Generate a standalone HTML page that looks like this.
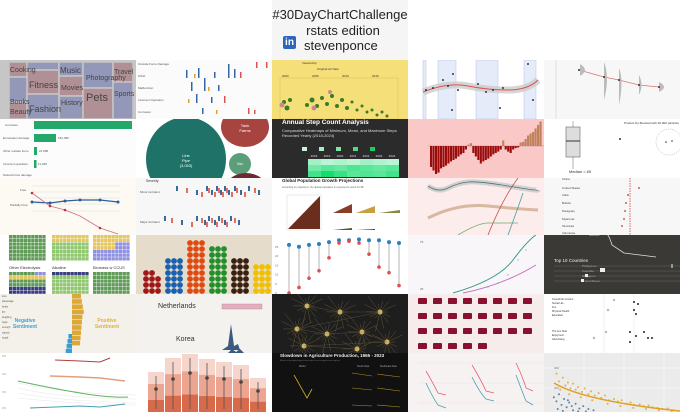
<!DOCTYPE html>
<html><head><meta charset="utf-8">
<style>
body{margin:0;width:680px;height:412px;overflow:hidden;background:#fff;font-family:"Liberation Sans",sans-serif;position:relative}
.t{position:absolute;width:136px;height:59px;overflow:hidden}
.t svg{display:block}
.hd{position:absolute;left:272px;top:0;width:136px;height:60px;background:#f5f5f5;text-align:center;color:#222}
</style></head><body>
<div class="hd">
<div style="position:absolute;left:0;width:136px;top:7px;font-size:13px">#30DayChartChallenge</div>
<div style="position:absolute;left:0;width:136px;top:23px;font-size:13px;padding-left:6px;box-sizing:border-box">rstats edition</div>
<div style="position:absolute;left:11px;top:36px;width:13px;height:13px;background:#2d64bc;border-radius:2px;color:#fff;font-size:10px;font-weight:bold;line-height:13px">in</div>
<div style="position:absolute;left:32px;top:38px;font-size:13px">stevenponce</div>
</div>

<!-- Row 1 -->
<div class="t" style="left:0;top:60px;background:#c6c6c6">
<svg width="136" height="59"><g stroke="#c6c6c6" stroke-width="1.5">
<rect x="9" y="2" width="18" height="15" fill="#b08f95"/><rect x="27" y="2" width="32" height="8" fill="#9397b8"/><rect x="27" y="10" width="32" height="24" fill="#b08f95"/>
<rect x="9" y="17" width="18" height="25" fill="#9397b8"/><rect x="9" y="42" width="18" height="17" fill="#b08f95"/>
<rect x="27" y="34" width="32" height="25" fill="#9397b8"/><rect x="59" y="2" width="24" height="14" fill="#9397b8"/><rect x="59" y="16" width="24" height="20" fill="#b08f95"/><rect x="59" y="36" width="24" height="23" fill="#9397b8"/>
<rect x="83" y="2" width="30" height="26" fill="#9397b8"/><rect x="83" y="28" width="30" height="31" fill="#b08f95"/><rect x="113" y="2" width="20" height="20" fill="#b08f95"/><rect x="113" y="22" width="20" height="37" fill="#9397b8"/></g>
<g fill="#444" font-size="7"><text x="10" y="12">Cooking</text><text x="29" y="28" font-size="9">Fitness</text><text x="60" y="13" font-size="8">Music</text><text x="61" y="30">Movies</text><text x="61" y="45">History</text><text x="86" y="20" font-size="7">Photography</text><text x="86" y="41" font-size="11">Pets</text><text x="114" y="14">Travel</text><text x="114" y="36">Sports</text><text x="10" y="54">Beauty</text><text x="29" y="52" font-size="9">Fashion</text><text x="10" y="44">Books</text></g></svg></div>

<div class="t" style="left:136px;top:60px;background:#fbfbfb">
<svg width="136" height="59"><g font-size="3" fill="#555"><text x="2" y="5">Outside Force Damage</text><text x="2" y="17">Other</text><text x="2" y="29">Malfunction</text><text x="2" y="41">Incorrect Operation</text><text x="2" y="53">Corrosion</text></g>
<g fill="#3465a4"><rect x="50" y="10" width="1.5" height="8"/><rect x="62" y="8" width="1.5" height="10"/><rect x="78" y="12" width="1.5" height="6"/><rect x="92" y="4" width="1.5" height="14"/><rect x="98" y="9" width="1.5" height="9"/><rect x="55" y="22" width="1.5" height="9"/><rect x="68" y="18" width="1.5" height="13"/><rect x="82" y="25" width="1.5" height="6"/><rect x="60" y="34" width="1.5" height="9"/><rect x="75" y="37" width="1.5" height="6"/><rect x="66" y="48" width="1.5" height="6"/></g>
<g fill="#d9534f"><rect x="104" y="12" width="1.5" height="6"/><rect x="120" y="2" width="1.5" height="6"/><rect x="130" y="2" width="1.5" height="6"/><rect x="112" y="48" width="1.5" height="6"/><rect x="118" y="50" width="1.5" height="4"/><rect x="88" y="36" width="1.5" height="7"/></g>
<g fill="#e0a030"><rect x="58" y="14" width="1.5" height="4"/><rect x="72" y="27" width="1.5" height="4"/><rect x="52" y="39" width="1.5" height="4"/><rect x="80" y="50" width="1.5" height="4"/></g></svg></div>

<div class="t" style="left:272px;top:60px;background:#f5df78">
<svg width="136" height="59"><g font-size="3" fill="#333"><text x="30" y="4">Viewership</text><text x="45" y="10">Original Air Date</text><text x="10" y="17">2000</text><text x="40" y="17">2005</text><text x="70" y="17">2010</text><text x="100" y="17">2015</text></g>
<rect x="8" y="18" width="118" height="41" fill="none" stroke="#e8cf60"/>
<g fill="#3b7a2a"><circle cx="12" cy="42" r="2"/><circle cx="15" cy="48" r="2.5"/><circle cx="18" cy="40" r="2"/><circle cx="35" cy="45" r="2"/><circle cx="40" cy="40" r="2.5"/><circle cx="45" cy="46" r="2"/><circle cx="50" cy="38" r="2"/><circle cx="55" cy="44" r="2"/><circle cx="60" cy="36" r="2"/><circle cx="65" cy="46" r="2"/><circle cx="70" cy="40" r="2"/><circle cx="75" cy="48" r="2"/><circle cx="80" cy="42" r="1.5"/><circle cx="85" cy="50" r="1.5"/><circle cx="90" cy="46" r="1.5"/><circle cx="95" cy="52" r="1.5"/><circle cx="100" cy="50" r="1.5"/><circle cx="105" cy="55" r="1.5"/><circle cx="110" cy="52" r="1.5"/><circle cx="115" cy="56" r="1.5"/></g>
<g fill="#c9879b"><circle cx="10" cy="45" r="2.5"/><circle cx="42" cy="48" r="2.5"/><circle cx="58" cy="32" r="2"/></g></svg></div>

<div class="t" style="left:408px;top:60px;background:#fff">
<svg width="136" height="59"><g fill="#e6ebfa" stroke="#b8c2e0" stroke-width="0.5"><rect x="15" y="0" width="3" height="59"/><rect x="30" y="0" width="18" height="59"/><rect x="68" y="0" width="22" height="59"/><rect x="116" y="0" width="12" height="59"/></g>
<path d="M15 32 Q40 22 60 26 T100 30 T130 20" stroke="#ccc" stroke-width="7" fill="none" opacity="0.8"/>
<path d="M15 32 Q40 22 60 26 T100 30 T130 20" stroke="#e05050" stroke-width="1" fill="none"/>
<g fill="#334"><circle cx="18" cy="30" r="1"/><circle cx="25" cy="28" r="1"/><circle cx="35" cy="20" r="1"/><circle cx="40" cy="26" r="1"/><circle cx="45" cy="14" r="1"/><circle cx="50" cy="30" r="1"/><circle cx="70" cy="24" r="1"/><circle cx="78" cy="32" r="1"/><circle cx="85" cy="30" r="1"/><circle cx="95" cy="28" r="1"/><circle cx="120" cy="4" r="1"/><circle cx="125" cy="40" r="1"/><circle cx="44" cy="50" r="1"/><circle cx="92" cy="48" r="1"/></g></svg></div>

<div class="t" style="left:544px;top:60px;background:#f7f7f7">
<svg width="136" height="59"><line x1="12" y1="0" x2="12" y2="59" stroke="#ccc" stroke-width="0.5"/>
<path d="M35 10 L60 17 L75 20 L95 25 L115 27" stroke="#e07070" fill="none" stroke-width="0.8"/>
<g fill="#bbb"><path d="M36 4 Q46 10 36 16 Z"/><path d="M60 2 Q66 17 60 40 Z"/><path d="M75 8 Q80 20 75 45 Z"/><path d="M95 15 Q100 25 95 35 Z"/><path d="M115 22 Q125 27 115 32 Z"/></g>
<g fill="#333"><circle cx="35" cy="10" r="1"/><circle cx="60" cy="17" r="1"/><circle cx="75" cy="20" r="1"/><circle cx="95" cy="25" r="1"/><circle cx="115" cy="27" r="1"/></g></svg></div>

<!-- Row 2 -->
<div class="t" style="left:0;top:119px;background:#fcfcfc">
<svg width="136" height="59"><g font-size="3" fill="#555"><text x="5" y="7">Corrosion</text><text x="3" y="20">Excavation damage</text><text x="3" y="33">Other outside force</text><text x="3" y="46">Incorrect operation</text><text x="3" y="57">Natural force damage</text></g>
<g fill="#22a86a"><rect x="34" y="2" width="98" height="8"/><rect x="34" y="15" width="22" height="8"/><rect x="34" y="28" width="3" height="8"/><rect x="34" y="41" width="2.5" height="8"/></g>
<g font-size="3" fill="#555"><text x="58" y="20">152,096</text><text x="39" y="33">21,986</text><text x="38" y="46">11,945</text></g></svg></div>

<div class="t" style="left:136px;top:119px;background:#fff">
<svg width="136" height="59"><ellipse cx="50" cy="40" rx="40" ry="42" fill="#1e7268"/><ellipse cx="109" cy="8" rx="24" ry="20" fill="#a84440"/><circle cx="104" cy="45" r="11" fill="#5a9e7a"/><ellipse cx="110" cy="72" rx="22" ry="18" fill="#6e2a32"/>
<g fill="#fff" font-size="4" text-anchor="middle"><text x="50" y="38">Line</text><text x="50" y="43">Pipe</text><text x="50" y="48">(3,053)</text><text x="109" y="8">Tank</text><text x="109" y="13">Farms</text><text x="104" y="46">Mo</text></g></svg></div>

<div class="t" style="left:272px;top:119px;background:#2b2b2b">
<div style="position:absolute;left:10px;top:0;color:#fff;font-weight:bold;font-size:6.5px">Annual Step Count Analysis</div>
<div style="position:absolute;left:10px;top:9px;color:#ddd;font-size:4px;width:115px;line-height:5px">Comparative Heatmaps of Minimum, Mean, and Maximum Steps Recorded Yearly (2018-2024)</div>
<svg width="136" height="59" style="position:absolute;left:0;top:0"><g fill="#c6f5d8"><rect x="30" y="28" width="5" height="4"/><rect x="47" y="28" width="5" height="4" fill="#a6eebf"/><rect x="64" y="28" width="5" height="4" fill="#7ee6a2"/><rect x="81" y="28" width="5" height="4" fill="#4fdc80"/><rect x="98" y="28" width="5" height="4" fill="#17cf5e"/></g>
<g id="hm"></g></svg></div>

<div class="t" style="left:408px;top:119px;background:#fbc8c8">
<svg width="136" height="59" id="anom"><line x1="20" y1="27" x2="136" y2="27" stroke="#a88" stroke-width="0.6"/></svg></div>

<div class="t" style="left:544px;top:119px;background:#fff">
<svg width="136" height="59"><rect x="22" y="8" width="14" height="30" fill="#ddd" stroke="#666" stroke-width="0.6"/><line x1="22" y1="22" x2="36" y2="22" stroke="#333"/><line x1="29" y1="2" x2="29" y2="8" stroke="#666" stroke-width="0.5"/><line x1="29" y1="38" x2="29" y2="50" stroke="#666" stroke-width="0.5"/>
<circle cx="125" cy="23" r="13" fill="none" stroke="#999" stroke-width="0.5" stroke-dasharray="1 1"/><circle cx="122" cy="23" r="0.8" fill="#333"/><circle cx="128" cy="22" r="0.8" fill="#333"/><circle cx="76" cy="20" r="1" fill="#333"/>
<text x="25" y="54" font-size="4" fill="#333">Median = 65</text><text x="80" y="5" font-size="3" fill="#333">Product Dy Boosted with 30,000 particles</text></svg></div>

<!-- Row 3 -->
<div class="t" style="left:0;top:178px;background:#fdfaf4">
<svg width="136" height="57"><g stroke="#ddd" stroke-width="0.5" fill="none"><path d="M32 8 H120"/><path d="M32 14 H120"/><path d="M32 20 H120"/><path d="M32 26 H120"/><path d="M32 33 H120"/></g>
<path d="M32 24 L50 25 L65 23 L80 22 L100 22 L118 24" stroke="#2e5e9a" stroke-width="1.2" fill="none"/>
<g fill="#2e5e9a"><circle cx="32" cy="24" r="1.5"/><circle cx="50" cy="25" r="1.5"/><circle cx="65" cy="23" r="1.5"/><circle cx="80" cy="22" r="1.5"/><circle cx="100" cy="22" r="1.5"/><circle cx="118" cy="24" r="1.5"/></g>
<path d="M32 15 L50 28 L65 32 L80 38 L90 44 L100 50 L118 56" stroke="#d07080" stroke-width="0.8" fill="none"/>
<g fill="#c0303e"><circle cx="32" cy="15" r="1.3"/><circle cx="50" cy="28" r="1.3"/><circle cx="65" cy="32" r="1.3"/><circle cx="100" cy="50" r="1.3"/></g>
<g font-size="3" fill="#555"><text x="20" y="13">Free</text><text x="10" y="28">Partially Free</text></g></svg></div>

<div class="t" style="left:136px;top:178px;background:#f7f7f7">
<svg width="136" height="57"><text x="10" y="4" font-size="3.5" fill="#333">Severity</text><text x="4" y="15" font-size="3" fill="#555">Minor Accident</text><text x="4" y="45" font-size="3" fill="#555">Major Accident</text>
<g id="bee"></g></svg></div>

<div class="t" style="left:272px;top:178px;background:#fff">
<svg width="136" height="57"><text x="10" y="4" font-size="4.5" font-weight="bold" fill="#222">Global Population Growth Projections</text>
<text x="10" y="10" font-size="2.5" fill="#666">According to projections, the global population is expected to reach 10.4B</text>
<path d="M16 51 L48 18 L48 51 Z" fill="#6b2e1e"/><rect x="15" y="17" width="34" height="35" fill="none" stroke="#ccc" stroke-width="0.4"/>
<path d="M61 35 L80 26 L80 35 Z" fill="#8a3e28"/><path d="M84 35 L103 28 L103 35 Z" fill="#c8a040"/><path d="M107 35 L128 32 L128 35 Z" fill="#8a8a40"/>
<path d="M61 52 L80 50 L80 52 Z" fill="#5a5a30"/><path d="M84 52 L103 51 L103 52 Z" fill="#3a4a60"/></svg></div>

<div class="t" style="left:408px;top:178px;background:#fcecec">
<svg width="136" height="57"><path d="M20 8 Q30 15 40 10 T60 4 T100 8 T130 12" stroke="#bbb" stroke-width="5" fill="none" opacity="0.6"/>
<path d="M20 8 Q30 15 40 10 T60 4 T100 8 T130 12" stroke="#4a7a7a" stroke-width="0.8" fill="none"/>
<path d="M20 40 Q50 25 80 28 T130 32" stroke="#d8b8a0" stroke-width="3" fill="none"/>
<path d="M50 57 Q70 45 80 45 T110 45" stroke="#6aaa6a" stroke-width="0.8" fill="none"/>
<path d="M80 57 Q95 20 110 0" stroke="#c0504a" stroke-width="0.8" fill="none"/><path d="M100 57 Q110 30 115 15" stroke="#40a0a0" stroke-width="0.8" fill="none"/></svg></div>

<div class="t" style="left:544px;top:178px;background:#f7f7f7">
<svg width="136" height="57"><line x1="86" y1="0" x2="86" y2="57" stroke="#c00" stroke-dasharray="1.5 1" stroke-width="0.6"/>
<g font-size="3" fill="#444"><text x="18" y="2">China</text><text x="18" y="11">United States</text><text x="18" y="18">India</text><text x="18" y="26">Bolivia</text><text x="18" y="34">Paraguay</text><text x="18" y="42">Myanmar</text><text x="18" y="49">Tanzania</text><text x="18" y="56">Indonesia</text></g>
<g fill="#c03030"><circle cx="95" cy="10" r="0.9"/><circle cx="84" cy="17" r="0.9"/><circle cx="82" cy="25" r="0.9"/><circle cx="81" cy="33" r="0.9"/><circle cx="80" cy="41" r="0.9"/><circle cx="78" cy="48" r="0.9"/></g></svg></div>

<!-- Row 4 -->
<div class="t" style="left:0;top:235px;background:#fff">
<svg width="136" height="59" id="waf"><g font-size="4" fill="#333"><text x="9" y="34">Other Electrolysis</text><text x="52" y="34">Alkaline</text><text x="93" y="34">Biomass w CCUS</text></g></svg></div>

<div class="t" style="left:136px;top:235px;background:#e6dccc">
<svg width="136" height="59" id="candy"></svg></div>

<div class="t" style="left:272px;top:235px;background:#fff">
<svg width="136" height="59" id="dumb"></svg></div>

<div class="t" style="left:408px;top:235px;background:#f9f6f9">
<svg width="136" height="59"><path d="M45 58 Q90 45 105 25 T128 0" stroke="#3a9a8a" stroke-width="1" fill="none"/><path d="M55 58 Q95 50 128 30" stroke="#c070c0" stroke-width="1" fill="none"/>
<g fill="#3a9a8a" opacity="0.6"><circle cx="80" cy="52" r="0.7"/><circle cx="90" cy="48" r="0.7"/><circle cx="100" cy="40" r="0.7"/><circle cx="110" cy="25" r="0.7"/><circle cx="118" cy="15" r="0.7"/></g><g font-size="3" fill="#666"><text x="12" y="8">75</text><text x="12" y="55">25</text></g></svg></div>

<div class="t" style="left:544px;top:235px;background:#3b3935">
<svg width="136" height="59"><path d="M45 0 L55 0 Q62 -10 68 10 L80 18 L112 22" stroke="#ddd" fill="none" stroke-width="0.8"/>
<text x="10" y="27" font-size="4.5" fill="#eee">Top 10 Countries</text><g font-size="3" fill="#bbb"><text x="38" y="32">Philippines</text><text x="38" y="37">Australia</text><text x="38" y="42">Singapore</text><text x="38" y="47">United States</text></g>
<g stroke="#666" stroke-width="0.5"><line x1="10" y1="31" x2="136" y2="31"/><line x1="10" y1="36" x2="136" y2="36"/><line x1="10" y1="41" x2="136" y2="41"/><line x1="10" y1="46" x2="136" y2="46"/></g>
<rect x="56" y="33" width="5" height="4" fill="#eee"/><rect x="41" y="39" width="3" height="3" fill="#eee"/><rect x="37" y="44" width="3" height="3" fill="#eee"/><line x1="128" y1="29" x2="128" y2="33" stroke="#eee"/></svg></div>

<!-- Row 5 -->
<div class="t" style="left:0;top:294px;background:#f4f1eb">
<svg width="136" height="59" id="sent"><text x="25" y="28" font-size="5" font-weight="bold" fill="#3aa0d8" text-anchor="middle">Negative</text><text x="25" y="34" font-size="5" font-weight="bold" fill="#3aa0d8" text-anchor="middle">Sentiment</text><text x="107" y="28" font-size="5" font-weight="bold" fill="#e0b040" text-anchor="middle">Positive</text><text x="107" y="34" font-size="5" font-weight="bold" fill="#e0b040" text-anchor="middle">Sentiment</text></svg></div>

<div class="t" style="left:136px;top:294px;background:#f4f2ee">
<svg width="136" height="59"><text x="22" y="14" font-size="7" fill="#333">Netherlands</text><text x="40" y="47" font-size="7" fill="#333">Korea</text>
<rect x="86" y="10" width="40" height="5" fill="#e0b0c0" stroke="#c08090" stroke-width="0.4"/>
<path d="M86 56 L92 52 L95 30 L98 52 L102 50 L104 56 Z" fill="#3a5a80"/><path d="M92 59 L96 55 L100 58 L104 55 L108 59 Z" fill="#3a5a80"/></svg></div>

<div class="t" style="left:272px;top:294px;background:#1e1e1e">
<svg width="136" height="59" id="net"></svg></div>

<div class="t" style="left:408px;top:294px;background:#f7ecec">
<svg width="136" height="59" id="sm"></svg></div>

<div class="t" style="left:544px;top:294px;background:#fff">
<svg width="136" height="59"><g font-size="2.5" fill="#333"><text x="8" y="6">Overall life Content</text><text x="8" y="10">Social Life</text><text x="8" y="14">Fun</text><text x="8" y="18">Physical Health</text><text x="8" y="22">Education</text><text x="8" y="38">The Fun Side</text><text x="8" y="42">Enjoyment</text><text x="8" y="46">Advertising</text></g>
<line x1="60" y1="0" x2="60" y2="59" stroke="#ddd" stroke-width="0.4"/><line x1="90" y1="0" x2="90" y2="59" stroke="#ddd" stroke-width="0.4"/>
<g fill="#222"><circle cx="90" cy="8" r="1"/><circle cx="94" cy="10" r="1"/><circle cx="90" cy="16" r="1"/><circle cx="92" cy="20" r="1"/><circle cx="86" cy="38" r="1"/><circle cx="100" cy="38" r="1"/><circle cx="92" cy="42" r="1"/><circle cx="104" cy="44" r="1"/><circle cx="108" cy="44" r="1"/><circle cx="86" cy="48" r="1"/></g>
<g fill="none" stroke="#666" stroke-width="0.4"><circle cx="70" cy="6" r="1"/><circle cx="64" cy="16" r="1"/><circle cx="62" cy="38" r="1"/><circle cx="50" cy="44" r="1"/></g></svg></div>

<!-- Row 6 -->
<div class="t" style="left:0;top:353px;background:#fff;height:59px">
<svg width="136" height="59"><g stroke="#e8e8e8" stroke-width="0.6" fill="none"><path d="M18 30 Q60 40 136 42"/><path d="M18 35 Q60 45 136 46"/><path d="M18 40 Q60 48 136 50"/><path d="M18 45 Q60 50 136 52"/></g>
<path d="M55 7 L80 8 L100 9 L110 5" stroke="#b04040" stroke-width="1" fill="none"/><path d="M50 23 L80 24 L100 25 L125 28" stroke="#e0a080" stroke-width="1.5" fill="none"/>
<path d="M18 28 Q50 35 80 40 T128 44" stroke="#60b060" stroke-width="1" fill="none"/><path d="M30 55 L80 53 L100 54 L125 51" stroke="#40a0b0" stroke-width="1" fill="none"/>
<g font-size="3" fill="#999"><text x="2" y="4">5%</text><text x="2" y="22">4%</text><text x="2" y="40">3%</text><text x="2" y="56">2%</text></g></svg></div>

<div class="t" style="left:136px;top:353px;background:#fff;height:59px">
<svg width="136" height="59" id="rb"></svg></div>

<div class="t" style="left:272px;top:353px;background:#111;height:59px">
<svg width="136" height="59"><text x="8" y="4" font-size="4.5" font-weight="bold" fill="#eee">Slowdown in Agriculture Production, 1965 - 2023</text>
<g fill="#777" font-size="2"><text x="8" y="8">A look at how global agricultural output has changed across regions</text></g>
<path d="M22 22 L35 45 L40 36" stroke="#d0b020" fill="none" stroke-width="0.8"/>
<g stroke="#b09020" stroke-width="0.6" fill="none"><path d="M80 20 L100 23"/><path d="M105 21 L128 24"/><path d="M80 35 L100 37"/><path d="M105 35 L128 38"/><path d="M80 52 L100 53"/><path d="M105 52 L128 54"/></g>
<g font-size="2.5" fill="#aaa"><text x="27" y="14">World</text><text x="85" y="14">South Asia</text><text x="108" y="14">Southeast Asia</text></g></svg></div>

<div class="t" style="left:408px;top:353px;background:#f7f2f2;height:59px">
<svg width="136" height="59"><g stroke="#e6e0e0" stroke-width="0.5"><line x1="10" y1="10" x2="136" y2="10"/><line x1="10" y1="30" x2="136" y2="30"/><line x1="10" y1="50" x2="136" y2="50"/></g>
<g stroke="#ea5a7a" fill="none" stroke-width="0.8"><path d="M18 18 Q25 30 30 40 L38 42"/><path d="M64 12 Q72 25 78 38 L86 40"/><path d="M108 10 Q114 22 118 35 L125 38"/></g>
<g stroke="#4aa0b0" fill="none" stroke-width="0.8"><path d="M18 30 Q25 45 30 52 L38 55"/><path d="M64 24 Q72 40 78 46 L86 48"/><path d="M108 22 Q114 38 118 48 L125 52"/></g></svg></div>

<div class="t" style="left:544px;top:353px;background:#ebebeb;height:59px">
<svg width="136" height="59" id="sc"><g stroke="#fff" stroke-width="0.5"><line x1="0" y1="15" x2="136" y2="15"/><line x1="0" y1="35" x2="136" y2="35"/><line x1="40" y1="0" x2="40" y2="59"/><line x1="80" y1="0" x2="80" y2="59"/><line x1="120" y1="0" x2="120" y2="59"/></g>
<g font-size="3" fill="#777"><text x="10" y="16">300</text><text x="10" y="36">200</text></g>
</svg></div>

<script>
const NS="http://www.w3.org/2000/svg";
function mk(parent,tag,attrs){const e=document.createElementNS(NS,tag);for(const k in attrs)e.setAttribute(k,attrs[k]);parent.appendChild(e);return e;}

// anomaly bar chart data
const anomalyValues=[-0.3,-0.35,-0.4,-0.38,-0.32,-0.3,-0.28,-0.25,-0.22,-0.2,-0.18,-0.15,-0.12,-0.1,-0.05,0.02,0.04,-0.1,-0.15,-0.2,-0.25,-0.22,-0.2,-0.18,-0.15,-0.12,-0.1,-0.08,-0.05,0.08,-0.05,-0.08,-0.1,-0.05,-0.03,-0.02,0.05,0.06,0.1,0.15,0.18,0.2,0.25,0.3,0.35];
(function(){const s=document.getElementById('anom');const x0=22,w=(134-x0)/anomalyValues.length;const y=v=>27-v*70;
anomalyValues.forEach((v,i)=>{const r=mk(s,'rect',{x:x0+i*w,y:Math.min(y(v),27),width:w*0.85,height:Math.abs(y(v)-27),fill:v<0?'#9a0c0c':'#c0805a'});

});})();

// heatmap data (min, mean, max rows x years)
const heatYears=["2018","2019","2020","2021","2022","2023","2024"];
const heatMin=[0.6,0.7,0.65,0.7,0.6,0.65,0.7];
const heatMean=[0.4,0.3,0.35,0.25,0.3,0.35,0.3];
const heatMax=[0.2,0.0,0.15,0.3,0.25,0.3,0.2];
(function(){const g=document.getElementById('hm');
function c(v){const a=[255,255,255],b=[20,220,110];return 'rgb('+a.map((x,i)=>Math.round(x+(b[i]-x)*(1-v))).join(',')+')';}
heatYears.forEach((yr,i)=>{mk(g,'text',{x:36+i*13+6,y:38,'font-size':3,fill:'#ddd','text-anchor':'middle'}).textContent=yr;
[heatMin,heatMean,heatMax].forEach((arr,j)=>{const r=mk(g,'rect',{x:36+i*13,y:40+j*6,width:13,height:6,fill:c(arr[i])});

});});})();

// dumbbell data
const dumbHigh=[26,25,26,26.5,27.5,28.5,28.5,29,28.5,28.5,27.5,27];
const dumbLow=[0,3,8,12,19,27,28,27,21,14,11,4];
(function(){const s=document.getElementById('dumb');const y=v=>58-v*1.85;
[0,5,10,15,20,25].forEach(t=>{mk(s,'text',{x:3,y:y(t)+1,'font-size':3,fill:'#777'}).textContent=t;});
dumbHigh.forEach((h,i)=>{const x=17+i*10;mk(s,'line',{x1:x,y1:y(h),x2:x,y2:y(dumbLow[i]),stroke:'#ccc','stroke-width':1.5});
const a=mk(s,'circle',{cx:x,cy:y(h),r:2,fill:'#2a80c0'});
const b=mk(s,'circle',{cx:x,cy:y(dumbLow[i]),r:1.8,fill:'#e05050'});});})();

// waffle
(function(){const s=document.getElementById('waf');
function grid(x,y,rows,fills){for(let r=0;r<rows;r++)for(let c=0;c<10;c++){mk(s,'rect',{x:x+c*3.7,y:y+r*3.7,width:3.3,height:3.3,fill:fills(r,c)});}}
grid(9,0,7,()=> '#5f9a56');grid(52,0,7,(r)=>r<2?'#e6c65e':'#8fc66e');grid(93,0,7,(r,c)=>r<2?'#e6c65e':(r<4&&c<6?'#e6c65e':'#8f90e0'));
grid(9,37,6,(r,c)=>r==0&&c>6?'#8f90e0':r==1?'#e6c65e':r>3?'#3a3e80':'#5f9a56');grid(52,37,6,(r)=>r==0?'#3a3e80':'#8fc66e');grid(93,37,6,()=> '#5f9a56');})();

// candy
const candyCounts=[4,6,9,8,6,5];
const candyColors=['#a01818','#1860b0','#e04a10','#20902a','#3a2010','#f0c000'];
(function(){const s=document.getElementById('candy');candyCounts.forEach((n,i)=>{for(let k=0;k<n;k++){for(let c=0;c<3;c++){if(i==0&&c==2&&k>2)continue;mk(s,'circle',{cx:10+i*22+c*6,cy:56-k*6,r:2.9,fill:candyColors[i]});}}});})();

// beeswarm
(function(){const g=document.getElementById('bee');const xs1=[40,50,60,65,70,72,75,78,80,82,84,86,88,90,92,95,98,100,104,108,112,118,122];
xs1.forEach((x,i)=>{mk(g,'rect',{x:x,y:8+(i%4)*2,width:2,height:5,fill:i%2?'#e07060':'#3a6a9a'});});
const xs2=[28,35,45,55,60,65,68,70,72,75,78,80,82,85,88,90,94,98,102];
xs2.forEach((x,i)=>{mk(g,'rect',{x:x,y:38+(i%4)*2,width:2,height:5,fill:i%2?'#e07060':'#3a6a9a'});});})();

// network
(function(){const s=document.getElementById('net');const hubs=[[35,12],[68,18],[108,18],[25,35],[55,40],[90,38],[115,48],[32,52],[85,55]];
hubs.forEach(h=>{for(let k=0;k<14;k++){const a=k*0.45,r=8+(k%5)*3;mk(s,'line',{x1:h[0],y1:h[1],x2:h[0]+Math.cos(a)*r,y2:h[1]+Math.sin(a)*r,stroke:'#8a7a40','stroke-width':0.3});}
mk(s,'circle',{cx:h[0],cy:h[1],r:2.5,fill:'#f0d070',opacity:0.8});});
hubs.forEach((h,i)=>{if(i)mk(s,'line',{x1:hubs[i-1][0],y1:hubs[i-1][1],x2:h[0],y2:h[1],stroke:'#7a6a40','stroke-width':0.3});});})();

// small multiples
(function(){const s=document.getElementById('sm');for(let r=0;r<4;r++)for(let c=0;c<8;c++){if(r==3&&c>4)continue;mk(s,'path',{d:`M${10+c*15} ${10+r*15} q3 -6 7 0 v0 z`,fill:'#8a1030'});mk(s,'rect',{x:10+c*15,y:4+r*15,width:9,height:6,fill:'#8a1030',rx:1});}})();

// sentiment bars
const posVals=[20,22,24,26,23,22,21,20,19,18];
const negVals=[8,10,12,14];
(function(){const s=document.getElementById('sent');posVals.forEach((v,i)=>{const r=mk(s,'rect',{x:72,y:i*5.2,width:v*0.45,height:4.6,fill:'#dca838'});});
negVals.forEach((v,i)=>{const r=mk(s,'rect',{x:72-v*0.45,y:40+i*5,width:v*0.45,height:4.6,fill:'#3a9ed6'});});
['love','advantage','better','joy','laughing','hope','enough','classic','tough'].forEach((w,i)=>{mk(s,'text',{x:2,y:3+i*5.2,'font-size':2.5,fill:'#555'}).textContent=w;});})();

// range bars
const rbHeights=[40,54,58,53,50,47,34];
const rbMid=[23,33,39,34,33,30,21];
(function(){const s=document.getElementById('rb');rbHeights.forEach((h,i)=>{const x=12+i*17;
mk(s,'rect',{x:x,y:59-h,width:16,height:h,fill:'#f6d6cc'});mk(s,'rect',{x:x,y:59-h*0.7,width:16,height:h*0.7,fill:'#eca590'});mk(s,'rect',{x:x,y:59-h*0.3,width:16,height:h*0.3,fill:'#d66a4a'});
mk(s,'line',{x1:x+8,y1:59-h+4,x2:x+8,y2:56,stroke:'#555','stroke-width':0.8});mk(s,'circle',{cx:x+8,cy:59-rbMid[i],r:1.8,fill:'#444'});});})();

// scatter decay: hand-read sample points (x in 0..1, y in 0..1 from top)
const scOrangeX=[0.05,0.07,0.1,0.12,0.14,0.16,0.18,0.2,0.22,0.25,0.27,0.3,0.32,0.35,0.38,0.4,0.43,0.46,0.5,0.53,0.56,0.6,0.63,0.66,0.7,0.73,0.77,0.8,0.84,0.88,0.92,0.96,0.08,0.15,0.24,0.33,0.45,0.55,0.65,0.75,0.85,0.95];
const scOrangeY=[0.35,0.48,0.42,0.55,0.5,0.6,0.52,0.62,0.58,0.66,0.6,0.7,0.65,0.72,0.68,0.76,0.72,0.8,0.78,0.82,0.8,0.86,0.84,0.88,0.87,0.9,0.89,0.92,0.93,0.95,0.94,0.97,0.62,0.7,0.75,0.8,0.86,0.9,0.93,0.95,0.97,0.99];
const scBlueX=[0.03,0.05,0.07,0.09,0.11,0.13,0.15,0.17,0.2,0.23,0.26,0.3,0.34,0.06,0.1,0.14,0.18,0.22,0.28];
const scBlueY=[0.75,0.82,0.7,0.88,0.78,0.92,0.84,0.9,0.86,0.94,0.9,0.95,0.97,0.95,0.98,0.8,0.97,0.99,0.99];
(function(){const s=document.getElementById('sc');
mk(s,'path',{d:'M10 30 Q40 48 136 58',stroke:'#e0a020','stroke-width':1.5,fill:'none'});
scBlueX.forEach((x,i)=>{const c=mk(s,'circle',{cx:6+x*128,cy:scBlueY[i]*59,r:1,fill:'#3a6a90',opacity:0.8});});
scOrangeX.forEach((x,i)=>{const c=mk(s,'circle',{cx:6+x*128,cy:scOrangeY[i]*59,r:1,fill:'#e0a020',opacity:0.8});});})();
</script>
</body></html>
